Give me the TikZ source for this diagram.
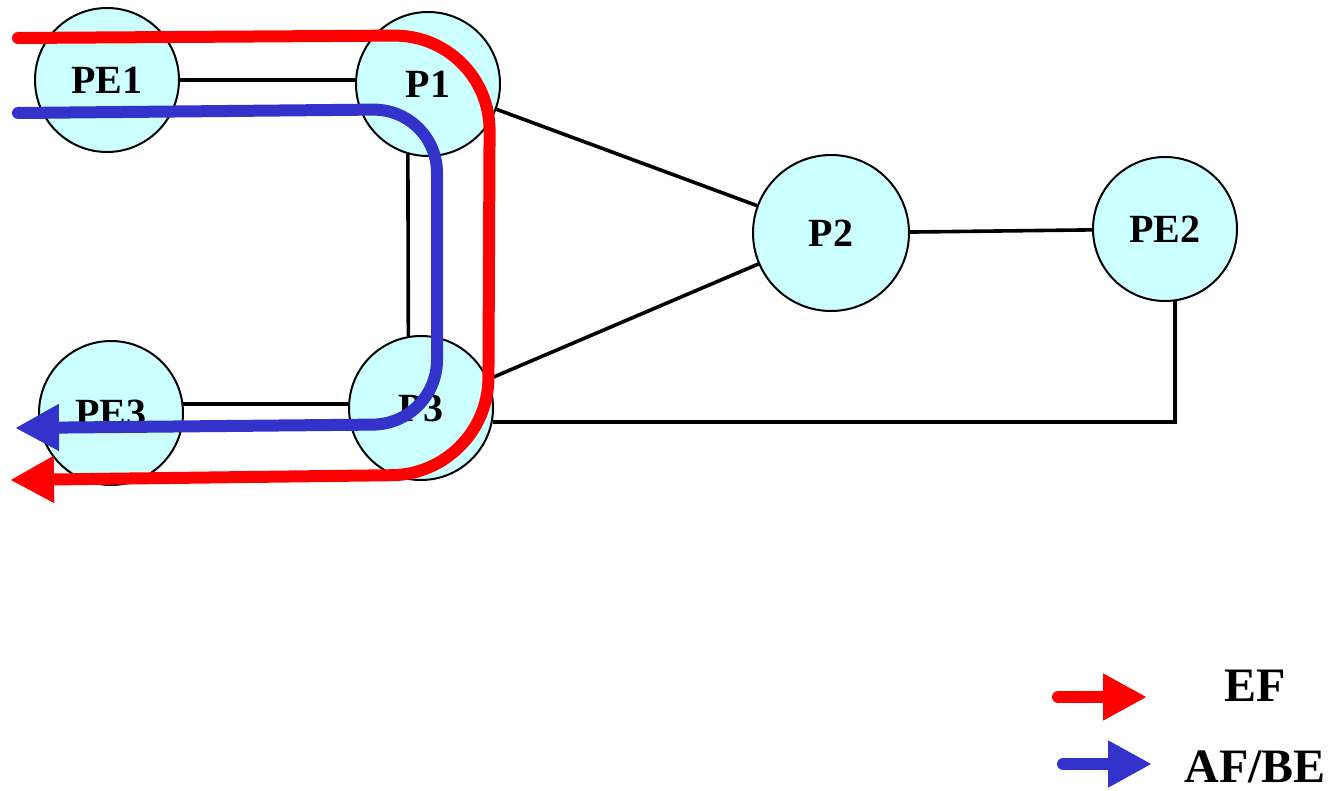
\documentclass[tikz,border=0pt]{standalone}
\usepackage{fontspec}
\setmainfont{Liberation Serif}
\usetikzlibrary{arrows.meta}
\definecolor{routerfill}{RGB}{204,255,255}
\definecolor{efred}{RGB}{255,0,0}
\definecolor{afblue}{RGB}{51,51,204}
\begin{document}
\begin{tikzpicture}[x=0.5pt, y=-0.5pt,
    router/.style={circle, draw, line width=1pt, fill=routerfill, minimum size=72pt, inner sep=0pt, font=\fontsize{20}{24}\selectfont\bfseries},
    link/.style={line width=1.8pt},
    flow/.style={line width=6pt, line cap=round, -{Triangle[length=22pt, width=22pt]}},
    legend/.style={inner sep=0pt, font=\fontsize{24}{28}\selectfont\bfseries}]
    \useasboundingbox (0,0) rectangle (1331,791);
    % routers
    \node[router] (PE1) at (107,80) {PE1};
    \node[router] (P1) at (428,84) {P1};
    \node[router, minimum size=78pt] (P2) at (831,233) {P2};
    \node[router] (PE2) at (1165,229) {PE2};
    \node[router] (PE3) at (111,413) {PE3};
    \node[router] (P3) at (421,408) {P3};
    % links
    \draw[link] (PE1.east) -- (PE1.east -| P1.west);
    \draw[link] (P1.-106) -- (P3.100);
    \draw[link] (P1) -- (P2);
    \draw[link] (P3) -- (P2);
    \draw[link] (P2) -- (PE2);
    \draw[link] (PE3.7) -- (PE3.7 -| P3.west);
    \draw[link] (P3.-11) -- (P3.-11 -| PE2.-82) -- (PE2.-82);
    % traffic flows
    \coordinate (ef in) at (18,38);
    \coordinate (ef out) at (10,480);
    \coordinate (af in) at (18,113);
    \coordinate (af out) at (15,428);
    \draw[flow, efred, rounded corners=48pt] (ef in) -- (490,35) -- (488,474) -- (ef out);
    \draw[flow, afblue, rounded corners=32pt] (af in) -- (437,109) -- (437,424) -- (af out);
    % legend
    \coordinate (ef start) at (1058,697);
    \coordinate (ef end) at (1147,697);
    \coordinate (af start) at (1063,764);
    \coordinate (af end) at (1152,764);
    \draw[flow, efred] (ef start) -- (ef end);
    \draw[flow, afblue] (af start) -- (af end);
    \node[legend] (ef label) at (1255,686) {EF};
    \node[legend] (af label) at (1255,767) {AF/BE};
\end{tikzpicture}
\end{document}
